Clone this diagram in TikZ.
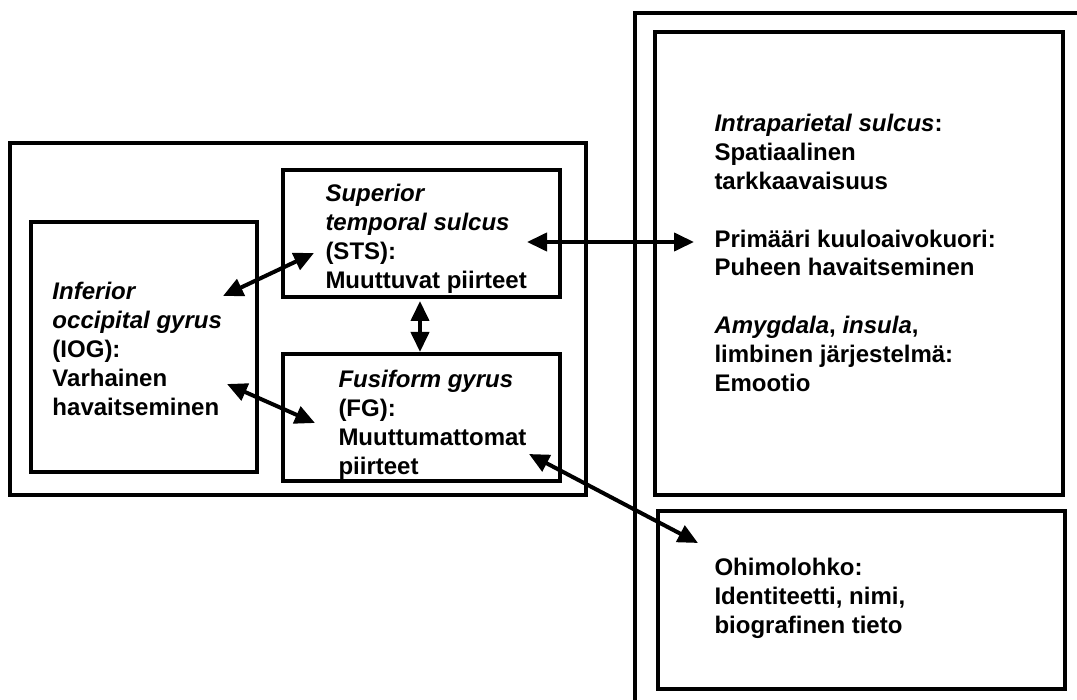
\documentclass[tikz,border=0pt]{standalone}
\usepackage{fontspec}
\setmainfont{Liberation Sans}
\usetikzlibrary{arrows.meta}

\begin{document}
\begin{tikzpicture}[x=0.5pt,y=-0.5pt,
    box/.style={draw,line width=1.9pt,inner sep=0pt},
    txt/.style={align=left,inner sep=0pt,anchor=north west,font=\fontsize{12}{14.4}\selectfont\bfseries},
    link/.style={{Triangle[length=10pt,width=9pt]}-{Triangle[length=10pt,width=9pt]},line width=2pt}]
        \useasboundingbox (0,0) rectangle (1077,700);
        \node[box,minimum width=288pt,minimum height=176pt] (lobe) at (298,319) {};
        \node[box,minimum width=113pt,minimum height=125pt] (iog) at (144,347) {};
        \node[box,minimum width=138.5pt,minimum height=63.5pt] (sts) at (421.5,233.5) {};
        \node[box,minimum width=138.5pt,minimum height=63.5pt] (fg) at (421.5,417.5) {};
        \node[box,minimum width=204pt,minimum height=231.5pt] (aivo) at (859,263.5) {};
        \node[box,minimum width=203.5pt,minimum height=89pt] (ohimo) at (861.5,600) {};
        \draw[line width=1.9pt] (635,700) -- (635,13) -- (1077,13);
        \node[txt] (iogT) at ([shift={(23,62)}]iog.north west) {\textit{Inferior}\\\textit{occipital gyrus}\\(IOG):\\Varhainen\\havaitseminen};
        \node[txt] (stsT) at ([shift={(44,16)}]sts.north west) {\textit{Superior}\\\textit{temporal sulcus}\\(STS):\\Muuttuvat piirteet};
        \node[txt] (fgT) at ([shift={(57,18)}]fg.north west) {\textit{Fusiform gyrus}\\(FG):\\Muuttumattomat\\piirteet};
        \node[txt] (aivoT) at ([shift={(61,84)}]aivo.north west) {\textit{Intraparietal sulcus}:\\Spatiaalinen\\tarkkaavaisuus\\[14.4pt]Primääri kuuloaivokuori:\\Puheen havaitseminen\\[14.4pt]\textit{Amygdala}, \textit{insula},\\limbinen järjestelmä:\\Emootio};
        \node[txt] (ohimoT) at ([shift={(58,49)}]ohimo.north west) {Ohimolohko:\\Identiteetti, nimi,\\biografinen tieto};
        \coordinate (stsR) at (527,242);
        \coordinate (kuuloL) at (694,242);
        \coordinate (iogA) at (223,296);
        \coordinate (stsL) at (314,253);
        \coordinate (iogB) at (227,384);
        \coordinate (fgL) at (315,423);
        \coordinate (stsB) at (420,301);
        \coordinate (fgTop) at (420,352);
        \coordinate (fgR) at (529,454);
        \coordinate (ohimoL) at (698,543);
        \draw[link] (stsR) -- (kuuloL);
        \draw[link] (iogA) -- (stsL);
        \draw[link] (iogB) -- (fgL);
        \draw[link] (stsB) -- (fgTop);
        \draw[link] (fgR) -- (ohimoL);
      \end{tikzpicture}
\end{document}
